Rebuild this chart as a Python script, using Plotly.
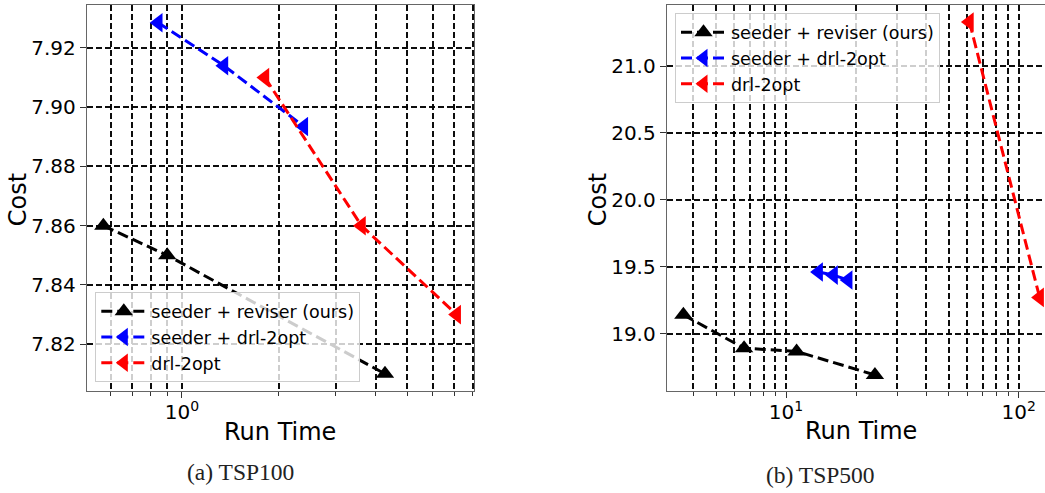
import plotly.graph_objects as go
import numpy as np

# ---------------- data ----------------
series_names = ["seeder + reviser (ours)", "seeder + drl-2opt", "drl-2opt"]

# TSP100
tsp100_ours_time = [0.57, 0.90, 4.27]
tsp100_ours_cost = [7.860, 7.850, 7.810]
tsp100_seed2opt_time = [0.844, 1.35, 2.39]
tsp100_seed2opt_cost = [7.9285, 7.914, 7.8935]
tsp100_drl2opt_time = [1.81, 3.61, 7.13]
tsp100_drl2opt_cost = [7.910, 7.860, 7.830]

# TSP500
tsp500_ours_time = [3.62, 6.6, 11.1, 24.1]
tsp500_ours_cost = [19.14, 18.89, 18.866, 18.69]
tsp500_seed2opt_time = [13.8, 16.0, 18.5]
tsp500_seed2opt_cost = [19.46, 19.437, 19.40]
tsp500_drl2opt_time = [61.4, 123.0]
tsp500_drl2opt_cost = [21.33, 19.27]

# tick labels
x1_major_vals = [1]
x1_major_text = ["10<sup>0</sup>"]
x1_minor_vals = [0.6, 0.7, 0.8, 0.9, 2, 3, 4, 5, 6, 7, 8]
y1_tickvals = [7.82, 7.84, 7.86, 7.88, 7.90, 7.92]
y1_ticktext = ["7.82", "7.84", "7.86", "7.88", "7.90", "7.92"]
x2_major_vals = [10, 100]
x2_major_text = ["10<sup>1</sup>", "10<sup>2</sup>"]
x2_minor_vals = [4, 5, 6, 7, 8, 9, 20, 30, 40, 50, 60, 70, 80, 90]
y2_tickvals = [19.0, 19.5, 20.0, 20.5, 21.0]
y2_ticktext = ["19.0", "19.5", "20.0", "20.5", "21.0"]

captions = ["(a) TSP100", "(b) TSP500"]

# ---------------- styling ----------------
W, H = 1045, 493
MT, MB = 5, 102
plot_h = H - MT - MB
FONT = "DejaVu Sans"
colors = ["black", "blue", "red"]
symbols = ["triangle-up", "triangle-left", "triangle-left"]
sizes = [16, 17, 17]
DASH = "11px,5px"
GRID_DASH = "6px,3px"
GRID_COLOR = "rgba(0,0,0,0.95)"
GRID_W = 1.5


def px_x(p):
    return p / W


def px_y(p):
    return (H - MB - p) / plot_h


fig = go.Figure()

left_data = [
    (tsp100_ours_time, tsp100_ours_cost),
    (tsp100_seed2opt_time, tsp100_seed2opt_cost),
    (tsp100_drl2opt_time, tsp100_drl2opt_cost),
]
right_data = [
    (tsp500_ours_time, tsp500_ours_cost),
    (tsp500_seed2opt_time, tsp500_seed2opt_cost),
    (tsp500_drl2opt_time, tsp500_drl2opt_cost),
]

for i, (xs, ys) in enumerate(left_data):
    fig.add_trace(go.Scatter(
        x=xs, y=ys, mode="lines+markers", name=series_names[i],
        line=dict(color=colors[i], width=3, dash=DASH),
        marker=dict(symbol=symbols[i], size=sizes[i], color=colors[i]),
        xaxis="x", yaxis="y", legend="legend",
    ))
for i, (xs, ys) in enumerate(right_data):
    fig.add_trace(go.Scatter(
        x=xs, y=ys, mode="lines+markers", name=series_names[i],
        line=dict(color=colors[i], width=3, dash=DASH),
        marker=dict(symbol=symbols[i], size=sizes[i], color=colors[i]),
        xaxis="x2", yaxis="y2", legend="legend2",
    ))

axis_common = dict(
    showgrid=True, gridcolor=GRID_COLOR, gridwidth=GRID_W, griddash=GRID_DASH,
    zeroline=False, showline=True, linecolor="#666", linewidth=1,
    ticks="outside", ticklen=6, tickcolor="#333", tickwidth=1,
    tickfont=dict(family=FONT, size=20, color="black"),
    automargin=False,
)


def minor_cfg(vals):
    return dict(tickmode="array", tickvals=vals, ticks="outside", ticklen=4,
                tickcolor="#333", showgrid=True, gridcolor=GRID_COLOR,
                gridwidth=GRID_W, griddash=GRID_DASH)


legend_common = dict(
    bgcolor="rgba(255,255,255,0.8)", bordercolor="#cccccc", borderwidth=1,
    font=dict(family=FONT, size=17.5, color="black"), itemwidth=45,
)

fig.update_layout(
    width=W, height=H,
    margin=dict(l=0, r=0, t=MT, b=MB),
    paper_bgcolor="white", plot_bgcolor="white",
    font=dict(family=FONT, color="black"),
    xaxis=dict(axis_common, type="log", domain=[px_x(86.7), px_x(474)],
               range=[np.log10(0.506), np.log10(8.07)],
               tickmode="array", tickvals=x1_major_vals, ticktext=x1_major_text,
               ticklabelstandoff=-3,
               minor=minor_cfg(x1_minor_vals), mirror=True, anchor="y"),
    yaxis=dict(axis_common, domain=[0, 1], range=[7.8042, 7.9345],
               tickmode="array", tickvals=y1_tickvals, ticktext=y1_ticktext,
               mirror=True, anchor="x"),
    xaxis2=dict(axis_common, type="log", domain=[px_x(666.7), 1.0],
                range=[0.487, 2.113],
                tickmode="array", tickvals=x2_major_vals, ticktext=x2_major_text,
                ticklabelstandoff=-3,
                minor=minor_cfg(x2_minor_vals), mirror=True, anchor="y2"),
    yaxis2=dict(axis_common, domain=[0, 1], range=[18.570, 21.457],
                tickmode="array", tickvals=y2_tickvals, ticktext=y2_ticktext,
                mirror=False, anchor="x2"),
    legend=dict(legend_common, x=px_x(95.3), y=px_y(382.3),
                xanchor="left", yanchor="bottom"),
    legend2=dict(legend_common, x=px_x(675), y=px_y(13.3),
                 xanchor="left", yanchor="top"),
    showlegend=True,
)

annotations = [
    dict(text="Cost", x=px_x(18.3), y=px_y(200), textangle=-90),
    dict(text="Cost", x=px_x(598.3), y=px_y(200), textangle=-90),
    dict(text="Run Time", x=px_x(280), y=px_y(431.7)),
    dict(text="Run Time", x=px_x(860.5), y=px_y(430.7)),
]
for a in annotations:
    fig.add_annotation(xref="paper", yref="paper", showarrow=False,
                       xanchor="center", yanchor="middle",
                       font=dict(family=FONT, size=24, color="black"), **a)

for cap, cx, cy in zip(captions, [240, 820.5], [472, 475]):
    fig.add_annotation(xref="paper", yref="paper", showarrow=False,
                       text=cap, x=px_x(cx), y=px_y(cy),
                       xanchor="center", yanchor="middle",
                       font=dict(family="Liberation Serif", size=23.5, color="#222"))

fig.write_html("out.html", config={"displayModeBar": False},
               post_script="document.body.style.margin='0px';")
